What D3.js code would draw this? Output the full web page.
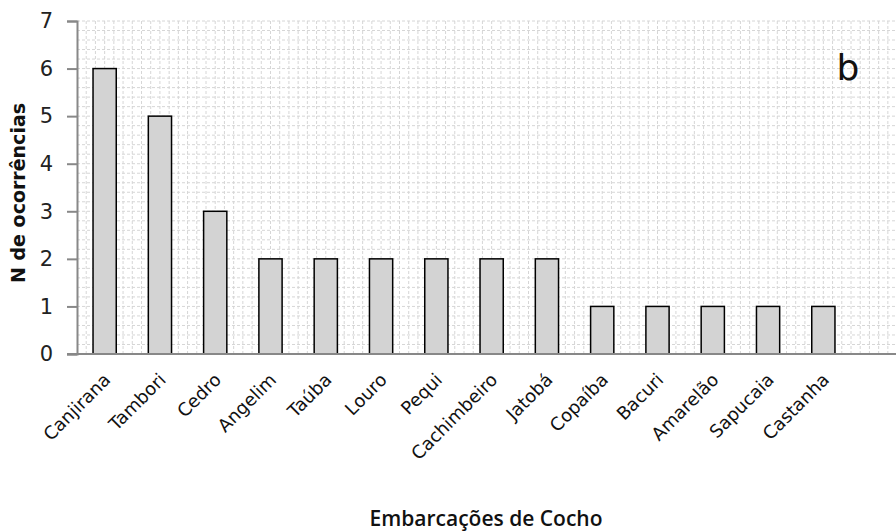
<!DOCTYPE html>
<html><head><meta charset="utf-8">
<script src="https://cdn.jsdelivr.net/npm/d3@7"></script>
<style>body{margin:0;background:#fff}svg{display:block}</style>
</head><body>
<svg id="c" width="896" height="531"></svg>
<script>
const categories = ["Canjirana","Tambori","Cedro","Angelim","Taúba","Louro","Pequi","Cachimbeiro","Jatobá","Copaíba","Bacuri","Amarelão","Sapucaia","Castanha"];
const values = [6,5,3,2,2,2,2,2,2,1,1,1,1,1];
const yTicks = [0,1,2,3,4,5,6,7];

(function(){
const svg = d3.select("#c");
const mLeft = 77, mRight = 896, mTop = 21, mBottom = 354;
const x = d3.scaleBand().domain(categories).range([77, 851]).paddingInner(0.58).paddingOuter(0.29);
const y = d3.scaleLinear().domain([0,7]).range([mBottom, mTop]);

// minor grid
const g = svg.append("g");
const hLines = d3.range(0, 7.001, 0.2);
g.selectAll("line.h").data(hLines).join("line")
  .attr("x1", mLeft).attr("x2", mRight)
  .attr("y1", d=>y(d)).attr("y2", d=>y(d))
  .attr("stroke","#d6d6d6").attr("stroke-width",1).attr("stroke-dasharray","3,2");
const step = x.step()/6;
const vLines = d3.range(mLeft + step, mRight, step);
g.selectAll("line.v").data(vLines).join("line")
  .attr("x1", d=>d).attr("x2", d=>d)
  .attr("y1", mTop).attr("y2", mBottom)
  .attr("stroke","#d6d6d6").attr("stroke-width",1).attr("stroke-dasharray","3,2");

// bars
svg.selectAll("rect.bar").data(categories).join("rect")
  .attr("x", d=>x(d)).attr("width", x.bandwidth())
  .attr("y", (d,i)=>y(values[i])).attr("height", (d,i)=>y(0)-y(values[i]))
  .attr("fill","#d3d3d3").attr("stroke","#000").attr("stroke-width",1.5);

// y axis
const yAxis = d3.axisLeft(y).tickValues(yTicks).tickSize(10).tickFormat(d3.format("d"));
const ya = svg.append("g").attr("transform",`translate(${mLeft},0)`).call(yAxis);
ya.select(".domain").attr("stroke","#888").attr("stroke-width",2);
ya.selectAll(".tick line").attr("stroke","#888").attr("stroke-width",2);
ya.selectAll(".tick text").attr("font-family","DejaVu Sans, sans-serif").attr("font-size",21).attr("fill","#222").attr("x",-24);

// x axis
const xAxis = d3.axisBottom(x).tickSize(0);
const xa = svg.append("g").attr("transform",`translate(0,${mBottom})`).call(xAxis);
xa.select(".domain").remove();
svg.append("line").attr("x1",67).attr("x2",mRight).attr("y1",mBottom).attr("y2",mBottom).attr("stroke","#888").attr("stroke-width",2);
xa.selectAll(".tick text")
  .attr("font-family","DejaVu Sans, sans-serif").attr("font-size",18).attr("fill","#111")
  .attr("text-anchor","end").attr("dy",0).attr("y",0)
  .attr("transform","translate(7,27) rotate(-45)");

// titles
svg.append("text").attr("transform","translate(25,193) rotate(-90)")
  .attr("text-anchor","middle").attr("font-family","DejaVu Sans, sans-serif")
  .attr("font-weight","bold").attr("font-size",19).attr("fill","#111").text("N de ocorrências");
svg.append("text").attr("x",486).attr("y",526).attr("text-anchor","middle")
  .attr("font-family","Open Sans, sans-serif").attr("font-weight",600).attr("font-size",21).attr("fill","#111").text("Embarcações de Cocho");
svg.append("text").attr("x",848).attr("y",80).attr("text-anchor","middle")
  .attr("font-family","DejaVu Sans, sans-serif").attr("font-size",36).attr("fill","#111").text("b");
})();
</script>
</body></html>
